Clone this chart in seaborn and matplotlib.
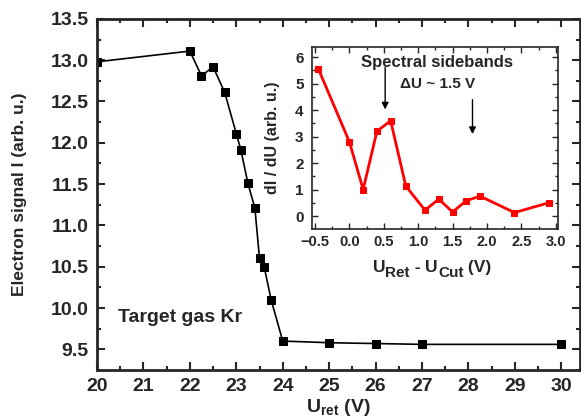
import numpy as np
import pandas as pd
import matplotlib
matplotlib.use("Agg")
import matplotlib.pyplot as plt
from matplotlib.ticker import MultipleLocator
import seaborn as sns

# main curve: retarding voltage vs electron signal
u_ret = [20.0, 22.0, 22.25, 22.5, 22.75, 23.0, 23.1, 23.25, 23.4, 23.5, 23.6, 23.75, 24.0, 25.0, 26.0, 27.0, 30.0]
signal = [12.98, 13.11, 12.81, 12.92, 12.61, 12.11, 11.91, 11.51, 11.21, 10.6, 10.5, 10.1, 9.6, 9.58, 9.57, 9.56, 9.56]

# inset: derivative
du = [-0.45, 0.0, 0.2, 0.4, 0.6, 0.82, 1.1, 1.3, 1.5, 1.7, 1.9, 2.4, 2.9]
didu = [5.55, 2.8, 1.0, 3.2, 3.6, 1.13, 0.22, 0.64, 0.15, 0.58, 0.75, 0.13, 0.5]

main_df = pd.DataFrame({"U": u_ret, "I": signal})
inset_df = pd.DataFrame({"dU": du, "dI": didu})

sns.set_style("ticks")
plt.rcParams["font.family"] = ["Liberation Sans", "DejaVu Sans"]
plt.rcParams["font.weight"] = "bold"
plt.rcParams["mathtext.default"] = "bf"
plt.rcParams["axes.linewidth"] = 2

fig = plt.figure(figsize=(5.81, 4.19), dpi=100)
ax = fig.add_axes([0.167, 0.117, 0.831, 0.838])

# ---- main plot ----
sns.lineplot(data=main_df, x="U", y="I", ax=ax, color="black", lw=1.2,
             marker="s", markersize=6, markeredgecolor="black")
ax.set_xlim(20, 30.4)
ax.set_ylim(9.25, 13.5)
ax.set_xticks(range(20, 31))
ax.set_xticklabels([str(v) for v in range(20, 31)], fontweight="bold")
ax.set_yticks(np.arange(9.5, 13.51, 0.5))
ax.set_yticklabels([f"{v:.1f}" for v in np.arange(9.5, 13.51, 0.5)], fontweight="bold")
ax.xaxis.set_minor_locator(MultipleLocator(0.5))
ax.yaxis.set_minor_locator(MultipleLocator(0.25))
ax.tick_params(which="both", direction="in", top=True, right=True, width=1.5)
ax.tick_params(which="major", length=6, labelsize=14)
ax.tick_params(axis="x", which="major", pad=6)
ax.tick_params(axis="y", which="major", pad=6)
ax.tick_params(which="minor", length=3)
ax.set_xlabel(r"U$_{\mathregular{ret}}$ (V)", fontsize=14, fontweight="bold", labelpad=1)
ax.set_ylabel("Electron signal I (arb. u.)", fontsize=12.5, fontweight="bold")
ax.yaxis.set_label_coords(-0.145, 0.5)
ax.text(20.45, 9.89, "Target gas Kr", fontsize=14, fontweight="bold", va="center")

# ---- inset ----
ins = fig.add_axes([0.537, 0.4535, 0.423, 0.434])
sns.lineplot(data=inset_df, x="dU", y="dI", ax=ins, color="red", lw=2,
             marker="s", markersize=4, markeredgecolor="red")
ins.set_xlim(-0.544, 3.03)
ins.set_ylim(-0.49, 6.38)
ins.xaxis.set_major_locator(MultipleLocator(0.5))
ins.xaxis.set_minor_locator(MultipleLocator(0.25))
ins.yaxis.set_major_locator(MultipleLocator(1))
ins.yaxis.set_minor_locator(MultipleLocator(0.5))
for sp in ins.spines.values():
    sp.set_linewidth(1.2)
ins.tick_params(which="both", direction="in", top=True, right=True, width=1)
ins.tick_params(which="major", length=4)
ins.tick_params(axis="x", which="major", labelsize=10.5, pad=4)
ins.tick_params(axis="y", which="major", labelsize=11, pad=6)
ins.tick_params(which="minor", length=2)
for lab in ins.get_xticklabels() + ins.get_yticklabels():
    lab.set_fontweight("bold")
ins.set_xlabel("")
ins.set_ylabel("dI / dU (arb. u.)", fontsize=11.5, fontweight="bold")
ins.yaxis.set_label_coords(-0.13, 0.5)

# x label of inset with large subscripts, built piece by piece
t = ins.text(0.248, -0.235, "U", transform=ins.transAxes, fontsize=12.5,
             fontweight="bold", va="baseline", ha="left")
pieces = [("Ret", -4), (" - ", 4), ("U", 0), ("Cut", -4), (" (V)", 4)]
for txt, dy in pieces:
    size = 11 if txt in ("Ret", "Cut") else 12.5
    t = ins.annotate(txt, xy=(1, 0), xycoords=t, xytext=(0, dy),
                     textcoords="offset points", fontsize=size,
                     fontweight="bold", va="bottom", ha="left")

ins.text(1.27, 5.8, "Spectral sidebands", fontsize=12, fontweight="bold", ha="center", va="center")
ins.text(1.28, 5.0, "\u0394U ~ 1.5 V", fontsize=11, fontweight="bold", ha="center", va="center")
ins.annotate("", xy=(0.52, 3.92), xytext=(0.52, 5.72),
             arrowprops=dict(arrowstyle="-|>", color="black", lw=1, mutation_scale=10))
ins.annotate("", xy=(1.79, 2.99), xytext=(1.79, 4.5),
             arrowprops=dict(arrowstyle="-|>", color="black", lw=1, mutation_scale=10))

fig.savefig("out.png", dpi=100)
